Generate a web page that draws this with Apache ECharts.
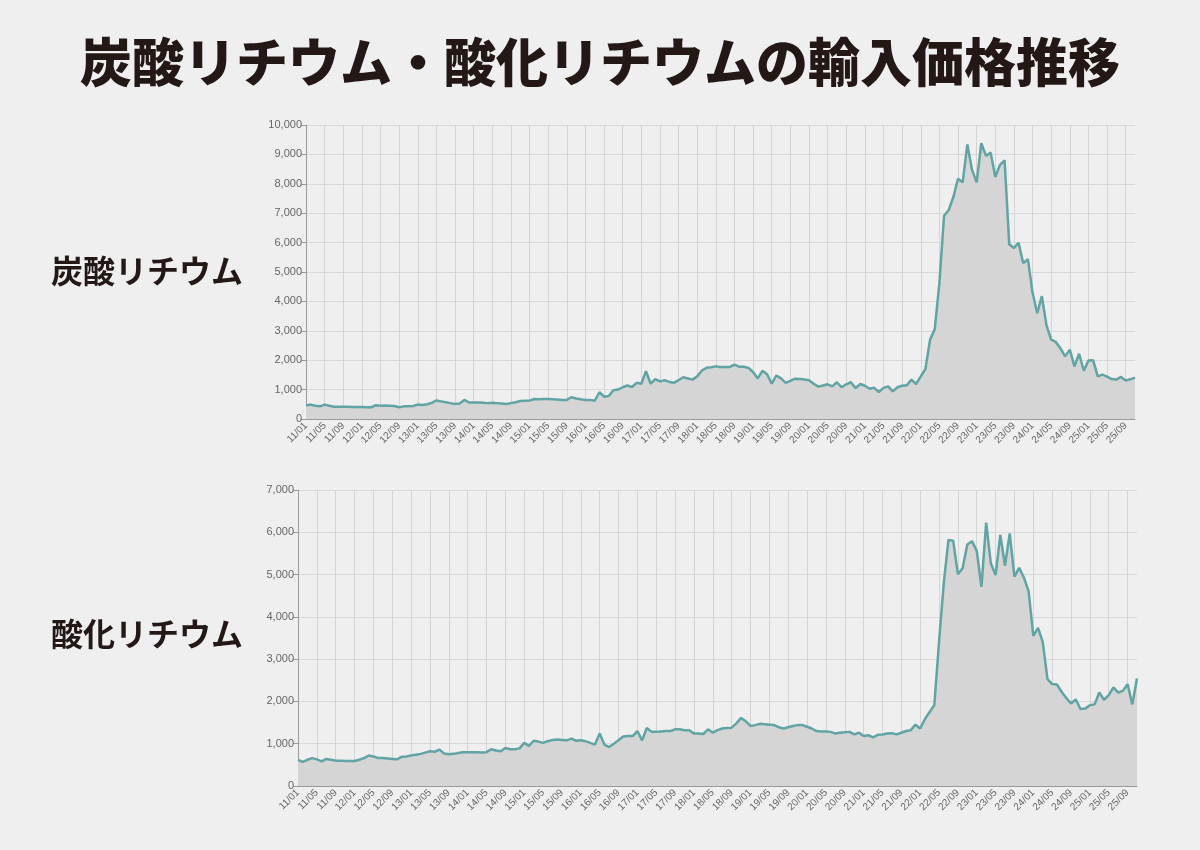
<!DOCTYPE html>
<html>
<head>
<meta charset="utf-8">
<script src="https://cdn.jsdelivr.net/npm/echarts@6/dist/echarts.min.js"></script>
<style>
  html, body { margin: 0; padding: 0; background: #efefef; }
  #chart { width: 1200px; height: 850px; }
</style>
</head>
<body>
<div id="chart"></div>
<script>
/* months 2011/01 - 2025/11 */
var startYear = 11;
var monthCount = 179;
var months = [];
for (var i = 0; i < monthCount; i++) {
    var y = startYear + Math.floor(i / 12);
    var m = i % 12 + 1;
    months.push(y + '/' + (m < 10 ? '0' + m : m));
}

/* 炭酸リチウム 輸入価格 */
var carbonate2011_2014 = [
    460, 490, 450, 430, 490, 450, 420, 420, 420, 420, 410, 410,
    410, 400, 400, 470, 450, 460, 450, 440, 400, 430, 430, 440,
    490, 480, 500, 550, 630, 600, 570, 540, 510, 530, 650, 560,
    560, 560, 550, 540, 550, 540, 530, 510, 540, 570, 610, 620
];
var carbonate2015_2018 = [
    625, 680, 670, 680, 680, 670, 660, 650, 650, 740, 700, 670,
    650, 650, 620, 910, 760, 780, 980, 1000, 1080, 1140, 1090, 1230,
    1200, 1630, 1200, 1360, 1280, 1320, 1260, 1230, 1320, 1420, 1380, 1340,
    1450, 1650, 1740, 1760, 1790, 1770, 1770, 1770, 1850, 1780, 1780, 1740
];
var carbonate2019_2022 = [
    1600, 1380, 1640, 1520, 1200, 1480, 1380, 1230, 1300, 1370, 1360, 1340,
    1320, 1200, 1100, 1140, 1180, 1110, 1250, 1080, 1180, 1250, 1050, 1190,
    1130, 1030, 1060, 920, 1060, 1110, 940, 1080, 1130, 1150, 1340, 1190,
    1450, 1700, 2700, 3050, 4620, 6910, 7110, 7550, 8170, 8050, 9340, 8480
];
var carbonate2023_2025 = [
    8050, 9380, 8950, 9060, 8230, 8640, 8800, 5940, 5820, 5990, 5300, 5440,
    4300, 3600, 4180, 3180, 2700, 2620, 2400, 2130, 2360, 1790, 2220, 1640,
    1990, 2000, 1450, 1510, 1440, 1360, 1340, 1430, 1310, 1350, 1410
];
var carbonate = carbonate2011_2014.concat(carbonate2015_2018, carbonate2019_2022, carbonate2023_2025);

/* 酸化リチウム 輸入価格 */
var oxide2011_2014 = [
    620, 570, 620, 660, 630, 580, 640, 620, 600, 600, 590, 590,
    590, 620, 660, 720, 700, 660, 660, 650, 640, 630, 690, 700,
    720, 740, 760, 790, 820, 810, 860, 770, 750, 760, 780, 800,
    800, 800, 800, 790, 800, 870, 840, 820, 900, 870, 870, 890
];
var oxide2015_2018 = [
    1020, 950, 1070, 1050, 1020, 1060, 1090, 1100, 1090, 1080, 1120, 1070,
    1080, 1060, 1020, 980, 1240, 980, 920, 1000, 1080, 1170, 1180, 1180,
    1300, 1080, 1370, 1280, 1280, 1290, 1300, 1300, 1340, 1340, 1320, 1320,
    1240, 1240, 1230, 1340, 1260, 1320, 1360, 1370, 1380, 1480, 1610, 1530
];
var oxide2019_2022 = [
    1420, 1440, 1470, 1460, 1450, 1440, 1390, 1360, 1390, 1420, 1440, 1440,
    1400, 1360, 1300, 1290, 1290, 1280, 1240, 1260, 1270, 1280, 1220, 1260,
    1180, 1200, 1150, 1210, 1220, 1240, 1250, 1220, 1260, 1300, 1320, 1450,
    1360, 1580, 1750, 1910, 3410, 4790, 5820, 5800, 5010, 5150, 5710, 5790
];
var oxide2023_2025 = [
    5560, 4710, 6230, 5260, 4990, 5940, 5210, 5970, 4950, 5160, 4930, 4610,
    3550, 3740, 3410, 2530, 2410, 2400, 2230, 2080, 1950, 2050, 1820, 1830,
    1910, 1930, 2210, 2040, 2150, 2330, 2210, 2250, 2410, 1930, 2540
];
var oxide = oxide2011_2014.concat(oxide2015_2018, oxide2019_2022, oxide2023_2025);

var lineColor = '#62a3a3';
var areaColor = '#d5d5d5';
var labelFont = '"Liberation Sans", Arial, sans-serif';
var jpFont = '"Noto Sans CJK JP", sans-serif';

function commaFmt(v) {
    return String(v).replace(/\B(?=(\d{3})+(?!\d))/g, ',');
}

function makeXAxis(gridIndex) {
    return {
        type: 'category',
        gridIndex: gridIndex,
        data: months,
        boundaryGap: false,
        axisLine: { lineStyle: { color: '#9a9a9a', width: 1 } },
        axisTick: { show: false },
        axisLabel: {
            interval: 3,
            rotate: 45,
            fontSize: 10,
            color: '#666',
            fontFamily: labelFont,
            margin: 5
        },
        splitLine: {
            show: true,
            interval: 3,
            lineStyle: { color: '#d4d4d4', width: 1 }
        }
    };
}

function makeYAxis(gridIndex, max) {
    return {
        type: 'value',
        gridIndex: gridIndex,
        min: 0,
        max: max,
        interval: 1000,
        axisLine: { show: true, lineStyle: { color: '#9a9a9a', width: 1 } },
        axisTick: { show: true, length: 5, lineStyle: { color: '#9a9a9a' } },
        axisLabel: {
            fontSize: 11,
            color: '#666',
            fontFamily: labelFont,
            margin: 4,
            formatter: commaFmt
        },
        splitLine: { lineStyle: { color: '#d9d9d9', width: 1 } }
    };
}

function makeSeries(idx, data) {
    return {
        type: 'line',
        xAxisIndex: idx,
        yAxisIndex: idx,
        data: data,
        symbol: 'none',
        smooth: false,
        lineStyle: { color: lineColor, width: 2.5 },
        areaStyle: { color: areaColor, opacity: 1 },
        z: 3
    };
}

var myChart = echarts.init(document.getElementById('chart'));
var option = {
    backgroundColor: '#efefef',
    animation: false,
    title: [
        {
            text: '炭酸リチウム・酸化リチウムの輸入価格推移',
            left: 'center',
            top: 31,
            textStyle: {
                fontFamily: jpFont,
                fontSize: 52,
                fontWeight: 900,
                color: '#231815'
            }
        },
        {
            text: '炭酸リチウム',
            left: 46,
            top: 250,
            textStyle: { fontFamily: jpFont, fontSize: 32, fontWeight: 'bold', color: '#231815' }
        },
        {
            text: '酸化リチウム',
            left: 46,
            top: 613,
            textStyle: { fontFamily: jpFont, fontSize: 32, fontWeight: 'bold', color: '#231815' }
        }
    ],
    grid: [
        { left: 306, top: 125, right: 65, height: 294 },
        { left: 298, top: 490, right: 63, height: 296 }
    ],
    xAxis: [makeXAxis(0), makeXAxis(1)],
    yAxis: [makeYAxis(0, 10000), makeYAxis(1, 7000)],
    series: [makeSeries(0, carbonate), makeSeries(1, oxide)]
};
myChart.setOption(option);
</script>
</body>
</html>
